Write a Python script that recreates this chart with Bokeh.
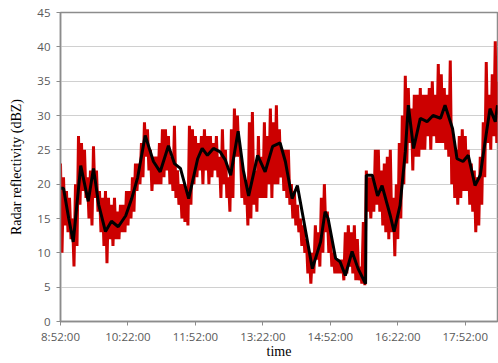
from bokeh.plotting import figure
from bokeh.models import Range1d, FixedTicker
from bokeh.embed import file_html
from bokeh.resources import INLINE

# time axis: minutes after 8:52:00
tick_minutes = [0, 90, 180, 270, 360, 450, 540]
tick_labels = ["8:52:00", "10:22:00", "11:52:00", "13:22:00", "14:52:00", "16:22:00", "17:52:00"]

# raw radar reflectivity (red): upper / lower swing every 4 minutes
red_step = 4
red_hi = [23, 21, 19, 18, 15, 20, 27, 26, 25, 21, 22, 25.5, 22, 19, 18, 19, 18, 17, 18, 16,
          17, 17, 19, 19, 21, 23, 23, 26, 29, 28, 25, 24, 24, 26, 28, 28, 27, 24, 28.5, 22,
          20, 20, 19, 28.5, 28, 27, 26, 27, 28, 27, 27, 26, 27, 24, 28, 25, 21, 28, 31, 30,
          25, 22, 20, 29, 30.5, 22, 27, 24, 29, 27, 31, 29, 31.5, 28, 25, 25, 25, 20, 19, 17,
          15, 14, 12, 10, 10, 14, 13, 18, 20, 16, 13, 10, 9, 9, 9, 13, 14, 13, 14, 12,
          8, 14.5, 22, 21, 21, 25, 25, 22, 23, 24, 25, 18, 20, 26, 30, 35.8, 34, 31, 33, 33,
          34, 33, 33, 34, 35, 33, 37.5, 36, 34, 33, 38, 27, 25, 27, 28, 27, 25, 23, 22, 21,
          24, 29, 37.8, 33, 36, 40.8, 35]
red_lo = [10, 14, 13, 12, 8, 11, 17, 19, 18, 15, 14, 18, 16, 13, 11, 8.5, 12, 11, 12, 12,
          13, 13, 14, 15, 16, 19, 20, 21, 24, 22, 19, 20, 20, 20, 21, 22, 20, 19, 18, 17,
          15, 14.5, 14, 17, 20, 21, 22, 20, 22, 20, 21, 22, 21, 18, 20, 18, 16, 18, 24, 24,
          18, 17, 14, 15, 17, 16, 18, 18, 18, 20, 18, 20, 20, 21, 19, 18, 17, 15, 14, 13,
          11, 10, 7, 5.5, 7, 9, 8, 10, 13, 10, 8, 7, 7, 7, 6, 7, 8, 7, 6, 6,
          5.5, 5.3, 16, 15, 16, 17, 16, 14, 13, 12, 13, 9.5, 12, 15, 20, 23, 26, 22, 24, 24,
          25, 25, 27, 25, 27, 26, 26, 26, 25, 24, 20, 18, 17, 18, 19, 19, 17, 16, 13, 14,
          17, 21, 26, 25, 27, 26, 27]

# smoothed reflectivity (black)
black_t = [0, 4, 11, 17, 27, 37, 44, 51, 60, 68, 77, 87, 95, 103, 113, 124, 133, 144, 152, 160,
           171, 183, 189, 196, 204, 213, 220, 227, 237, 244, 251, 263, 273, 283, 293, 300, 309,
           316, 324, 336, 347, 353, 357, 367, 373, 380, 389, 397, 407, 408, 416, 423, 429, 440,
           445, 453, 460, 464, 471, 480, 489, 497, 507, 513, 523, 529, 537, 544, 553, 560, 567,
           573, 580, 583]
black_v = [19.4, 19.4, 15, 11.6, 22.7, 17.5, 22.3, 17, 13.1, 14.6, 13.8, 15.4, 17.9, 21, 27.1,
           23.3, 21.8, 25.6, 23, 22.3, 17.9, 23.7, 25.2, 24.2, 25.2, 24.7, 23.5, 21.3, 27.7, 22,
           18.3, 24.2, 21.8, 25.5, 26, 23.3, 17.9, 19.8, 15, 7.7, 11.6, 16, 15, 9.2, 8.7, 6.7,
           10.2, 7.7, 5.5, 21.3, 21.3, 18.3, 19.8, 15.4, 13.1, 16.9, 24.7, 31.5, 25.2, 29.6, 29.1,
           30, 29.6, 31.5, 28.1, 23.7, 23.3, 24.2, 19.8, 21.3, 26.6, 31, 29.1, 31.5]

# interleave upper and lower swings into one raw trace
red_t, red_v = [], []
for i, (h, l) in enumerate(zip(red_hi, red_lo)):
    red_t += [i * red_step, i * red_step + red_step / 2]
    red_v += [h, l]

p = figure(width=498, height=361, output_backend="svg", toolbar_location=None,
           x_range=Range1d(0, 583), y_range=Range1d(0, 45),
           min_border_left=60, min_border_right=1, min_border_top=12, min_border_bottom=40)

p.line(red_t, red_v, line_color="#cc0000", line_width=3)
p.line(black_t, black_v, line_color="#000000", line_width=3)

p.background_fill_color = "white"
p.border_fill_color = "white"
p.outline_line_color = "#8c8c8c"
p.outline_line_width = 1.5

p.xgrid.visible = False
p.ygrid.grid_line_color = "#d0d0d0"
p.ygrid.grid_line_width = 1

p.xaxis.ticker = FixedTicker(ticks=tick_minutes)
p.xaxis.major_label_overrides = {t: s for t, s in zip(tick_minutes, tick_labels)}
p.yaxis.ticker = FixedTicker(ticks=list(range(0, 46, 5)))

for ax in (p.xaxis, p.yaxis):
    ax.axis_line_color = "#8c8c8c"
    ax.axis_line_width = 1.5
    ax.major_tick_line_color = "#8c8c8c"
    ax.major_tick_in = 0
    ax.major_tick_out = 4
    ax.minor_tick_line_color = None
    ax.major_label_text_font = "Open Sans"
    ax.major_label_text_font_size = "11.5px"
    ax.major_label_text_color = "#595959"
    ax.axis_label_text_font = "Liberation Serif"
    ax.axis_label_text_font_size = "14px"
    ax.axis_label_text_font_style = "normal"
    ax.axis_label_text_color = "#000000"

p.xaxis.axis_label = "time"
p.yaxis.axis_label = "Radar reflectivity (dBZ)"
p.xaxis.major_label_standoff = 3
p.yaxis.major_label_standoff = 6
p.xaxis.axis_label_standoff = -3
p.yaxis.axis_label_standoff = 10

open("out.html", "w").write(file_html(p, INLINE))
